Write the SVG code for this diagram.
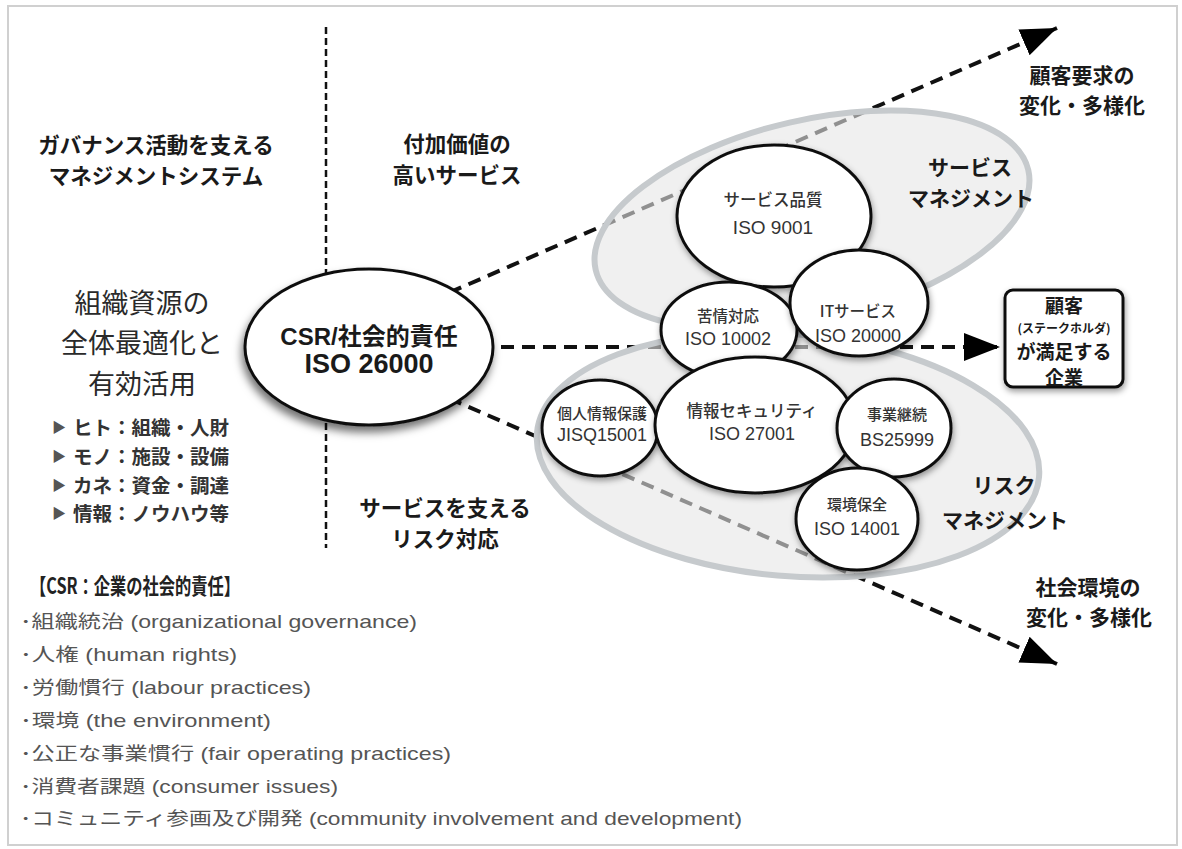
<svg xmlns="http://www.w3.org/2000/svg" width="1182" height="849" viewBox="0 0 1182 849">
<style>
.h{font-family:"Noto Sans CJK JP",sans-serif;font-weight:700;fill:#1a1a1a;text-anchor:middle;dominant-baseline:central}
.m{font-family:"Noto Sans CJK JP",sans-serif;font-weight:400;fill:#2a2a2a;text-anchor:middle;dominant-baseline:central}
.b{font-family:"Noto Sans CJK JP",sans-serif;font-weight:700;fill:#333;dominant-baseline:central}
.c{font-family:"Noto Sans CJK JP",sans-serif;font-weight:500;fill:#333;text-anchor:middle;dominant-baseline:central}
.n{font-family:"Liberation Sans","Noto Sans CJK JP",sans-serif;font-weight:400;fill:#333;text-anchor:middle;dominant-baseline:central}
.l{font-family:"Liberation Sans","Noto Sans CJK JP",sans-serif;font-weight:400;fill:#555;dominant-baseline:central}
.circ{fill:#fff;stroke:#111;stroke-width:3}
.zone{fill:#e6e6e6;fill-opacity:0.6;stroke:#c6cacd;stroke-width:6}
.dash{fill:none;stroke:#111;stroke-width:4;stroke-dasharray:13 8}
</style>
<defs>
<filter id="sh" x="-20%" y="-20%" width="140%" height="150%"><feDropShadow dx="1" dy="3" stdDeviation="3" flood-color="#000" flood-opacity="0.4"/></filter>
<filter id="sh2" x="-20%" y="-20%" width="140%" height="160%"><feDropShadow dx="-2" dy="6" stdDeviation="4" flood-color="#000" flood-opacity="0.55"/></filter>
<marker id="ah" markerUnits="userSpaceOnUse" markerWidth="40" markerHeight="30" refX="36" refY="14" orient="auto"><path d="M0,0 L36,14 L0,28 z" fill="#000"/></marker>
</defs>
<rect width="1182" height="849" fill="#fff"/>
<rect x="8" y="6" width="1169" height="839" fill="#fff" stroke="#d0d0d0" stroke-width="2"/>
<g id="divider"><line x1="326" y1="27" x2="326" y2="548" stroke="#111" stroke-width="2.5" stroke-dasharray="7 4"/></g>
<g id="connectors">
<line class="dash" x1="430" y1="301" x2="1057" y2="28" marker-end="url(#ah)"/>
<line class="dash" x1="480" y1="347" x2="1000" y2="347" marker-end="url(#ah)"/>
<line class="dash" x1="430" y1="390" x2="1057" y2="664" marker-end="url(#ah)"/>
</g>
<g id="service-management"><ellipse class="zone" cx="812" cy="220" rx="222" ry="100" transform="rotate(-13 812 220)"/>
<text class="h" x="970" y="166" font-size="21">サービス</text><text class="h" x="971" y="197" font-size="21">マネジメント</text></g>
<g id="risk-management"><ellipse class="zone" cx="788" cy="455" rx="252" ry="121" transform="rotate(5 788 455)"/>
<text class="h" x="1004" y="484" font-size="21">リスク</text><text class="h" x="1005" y="519" font-size="21">マネジメント</text></g>
<g id="iso9001"><ellipse class="circ" filter="url(#sh)" cx="774" cy="216" rx="97" ry="71"/><text class="c" x="773" y="199" font-size="16.5">サービス品質</text><text class="n" x="773" y="227" font-size="19">ISO 9001</text></g>
<g id="iso10002"><ellipse class="circ" filter="url(#sh)" cx="729" cy="330" rx="68" ry="48"/><text class="c" x="728" y="315" font-size="15.5">苦情対応</text><text class="n" x="728" y="339" font-size="18">ISO 10002</text></g>
<g id="iso20000"><ellipse class="circ" filter="url(#sh)" cx="859" cy="303" rx="69" ry="53"/><text class="c" x="858" y="310" font-size="15.5">ITサービス</text><text class="n" x="858" y="336" font-size="18">ISO 20000</text></g>
<g id="jisq15001"><ellipse class="circ" filter="url(#sh)" cx="600" cy="428" rx="58" ry="48"/><text class="c" x="602" y="412" font-size="15">個人情報保護</text><text class="n" x="602" y="435" font-size="18">JISQ15001</text></g>
<g id="iso27001"><ellipse class="circ" filter="url(#sh)" cx="755" cy="425" rx="100" ry="68"/><text class="c" x="752" y="410" font-size="16.5">情報セキュリティ</text><text class="n" x="752" y="434" font-size="18">ISO 27001</text></g>
<g id="bs25999"><ellipse class="circ" filter="url(#sh)" cx="894" cy="428" rx="57" ry="49"/><text class="c" x="897" y="413" font-size="15">事業継続</text><text class="n" x="897" y="440" font-size="18">BS25999</text></g>
<g id="iso14001"><ellipse class="circ" filter="url(#sh)" cx="857" cy="519" rx="61" ry="51"/><text class="c" x="857" y="503" font-size="15">環境保全</text><text class="n" x="857" y="529" font-size="18">ISO 14001</text></g>
<g id="csr"><ellipse fill="#fff" stroke="#111" stroke-width="3" filter="url(#sh2)" cx="369" cy="347" rx="124" ry="78"/>
<text class="h" x="369" y="336" font-size="24" style="font-family:'Liberation Sans','Noto Sans CJK JP',sans-serif">CSR/社会的責任</text>
<text class="h" x="369" y="364" font-size="27" style="font-family:'Liberation Sans','Noto Sans CJK JP',sans-serif">ISO 26000</text></g>
<g id="customer"><rect x="1005" y="290" width="118" height="97" rx="8" fill="#fff" stroke="#111" stroke-width="3" filter="url(#sh)"/>
<text class="h" x="1064" y="304" font-size="19">顧客</text>
<text class="h" x="1064" y="327" font-size="12">(ステークホルダ)</text>
<text class="h" x="1064" y="350" font-size="19">が満足する</text>
<text class="h" x="1064" y="376" font-size="19">企業</text></g>
<g id="labels">
<text class="h" x="156" y="143" font-size="21.5">ガバナンス活動を支える</text>
<text class="h" x="156" y="174" font-size="21.5">マネジメントシステム</text>
<text class="h" x="457" y="142" font-size="21.5">付加価値の</text>
<text class="h" x="457" y="173" font-size="21.5">高いサービス</text>
<text class="h" x="445" y="506" font-size="21.5">サービスを支える</text>
<text class="h" x="445" y="537" font-size="21.5">リスク対応</text>
<text class="h" x="1082" y="74" font-size="21">顧客要求の</text>
<text class="h" x="1082" y="104" font-size="21">変化・多様化</text>
<text class="h" x="1088" y="586" font-size="21">社会環境の</text>
<text class="h" x="1089" y="616" font-size="21">変化・多様化</text>
<text class="m" x="142" y="301" font-size="27">組織資源の</text>
<text class="m" x="142" y="341" font-size="27">全体最適化と</text>
<text class="m" x="142" y="382" font-size="27">有効活用</text>
<text class="b" x="52" y="426" font-size="19.5"><tspan font-size="14" fill="#555">▶</tspan><tspan x="73">ヒト：組織・人財</tspan></text>
<text class="b" x="52" y="455" font-size="19.5"><tspan font-size="14" fill="#555">▶</tspan><tspan x="73">モノ：施設・設備</tspan></text>
<text class="b" x="52" y="484" font-size="19.5"><tspan font-size="14" fill="#555">▶</tspan><tspan x="73">カネ：資金・調達</tspan></text>
<text class="b" x="52" y="512" font-size="19.5"><tspan font-size="14" fill="#555">▶</tspan><tspan x="73">情報：ノウハウ等</tspan></text>
<text class="b" x="30" y="584" font-size="22" style="fill:#222" textLength="210" lengthAdjust="spacingAndGlyphs">【CSR：企業の社会的責任】</text>
<text class="l" x="20" y="621" font-size="18.5" textLength="397" lengthAdjust="spacingAndGlyphs">･組織統治 (organizational governance)</text>
<text class="l" x="20" y="654" font-size="18.5" textLength="217" lengthAdjust="spacingAndGlyphs">･人権 (human rights)</text>
<text class="l" x="20" y="687" font-size="18.5" textLength="291" lengthAdjust="spacingAndGlyphs">･労働慣行 (labour practices)</text>
<text class="l" x="20" y="720" font-size="18.5" textLength="251" lengthAdjust="spacingAndGlyphs">･環境 (the environment)</text>
<text class="l" x="20" y="753" font-size="18.5" textLength="431" lengthAdjust="spacingAndGlyphs">･公正な事業慣行 (fair operating practices)</text>
<text class="l" x="20" y="786" font-size="18.5" textLength="318" lengthAdjust="spacingAndGlyphs">･消費者課題 (consumer issues)</text>
<text class="l" x="20" y="818" font-size="18.5" textLength="722" lengthAdjust="spacingAndGlyphs">･コミュニティ参画及び開発 (community involvement and development)</text>
</g>
</svg>
